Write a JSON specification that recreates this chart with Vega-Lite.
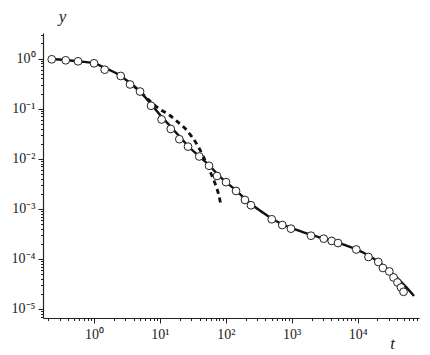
{
  "$schema": "https://vega.github.io/schema/vega-lite/v6.json",
  "width": 376,
  "height": 285,
  "autosize": "none",
  "padding": {"left": 43, "top": 33, "right": 11, "bottom": 37},
  "background": "white",
  "config": {
    "view": {"stroke": null},
    "axis": {
      "grid": false,
      "domainColor": "#222",
      "domainWidth": 1.2,
      "tickColor": "#222",
      "labelFontSize": 14,
      "labelColor": "#222",
      "titleFontStyle": "italic",
      "titleFontWeight": "normal",
      "titleFontSize": 17,
      "titleColor": "#222",
      "labelFlush": false,
      "labelOverlap": false
    }
  },
  "datasets": {
    "pts": [
      {"t": 0.228, "y": 0.964}, {"t": 0.372, "y": 0.921}, {"t": 0.572, "y": 0.879},
      {"t": 1.0, "y": 0.802}, {"t": 1.45, "y": 0.598}, {"t": 2.54, "y": 0.448},
      {"t": 3.52, "y": 0.303}, {"t": 4.99, "y": 0.219}, {"t": 7.33, "y": 0.114},
      {"t": 10.6, "y": 0.0606}, {"t": 14.6, "y": 0.0392}, {"t": 19.7, "y": 0.0245},
      {"t": 26.7, "y": 0.0174}, {"t": 39.5, "y": 0.01107}, {"t": 55.6, "y": 0.00722},
      {"t": 73.5, "y": 0.00452}, {"t": 100.7, "y": 0.0034}, {"t": 143, "y": 0.00227},
      {"t": 195, "y": 0.0015}, {"t": 241, "y": 0.001175}, {"t": 498, "y": 0.000617},
      {"t": 720, "y": 0.000474}, {"t": 975, "y": 0.000401}, {"t": 1963, "y": 0.00029},
      {"t": 3061, "y": 0.000253}, {"t": 4048, "y": 0.000228}, {"t": 5045, "y": 0.000207},
      {"t": 9550, "y": 0.000154}, {"t": 14620, "y": 0.000109}, {"t": 20600, "y": 0.0000867},
      {"t": 24200, "y": 0.0000658}, {"t": 30300, "y": 0.0000561}, {"t": 35100, "y": 0.0000426},
      {"t": 40300, "y": 0.0000338}, {"t": 45600, "y": 0.0000269}, {"t": 49800, "y": 0.000022}
    ],
    "solid": [
      {"t": 0.215, "y": 0.977}, {"t": 0.363, "y": 0.933}, {"t": 0.614, "y": 0.871},
      {"t": 1.035, "y": 0.794}, {"t": 1.47, "y": 0.646}, {"t": 2.48, "y": 0.458},
      {"t": 3.52, "y": 0.324}, {"t": 4.99, "y": 0.219}, {"t": 7.33, "y": 0.1236},
      {"t": 10.4, "y": 0.0711}, {"t": 14.7, "y": 0.043}, {"t": 20.2, "y": 0.0271},
      {"t": 28.6, "y": 0.01636}, {"t": 40.6, "y": 0.01082}, {"t": 57.5, "y": 0.00715},
      {"t": 76.1, "y": 0.00473}, {"t": 100.7, "y": 0.00343}, {"t": 143, "y": 0.00232},
      {"t": 195, "y": 0.00157}, {"t": 277, "y": 0.001086}, {"t": 393, "y": 0.000787},
      {"t": 558, "y": 0.000583}, {"t": 791, "y": 0.000464}, {"t": 1122, "y": 0.000386},
      {"t": 1897, "y": 0.000307}, {"t": 3199, "y": 0.000249}, {"t": 5408, "y": 0.000203},
      {"t": 9140, "y": 0.000158}, {"t": 12950, "y": 0.000128}, {"t": 18370, "y": 0.0000973},
      {"t": 26050, "y": 0.0000689}, {"t": 36970, "y": 0.0000456}, {"t": 52400, "y": 0.0000288},
      {"t": 71800, "y": 0.0000182}
    ],
    "dashed": [
      {"t": 2.48, "y": 0.458}, {"t": 3.52, "y": 0.324}, {"t": 4.99, "y": 0.219},
      {"t": 7.51, "y": 0.131}, {"t": 10.0, "y": 0.0969}, {"t": 13.9, "y": 0.0745},
      {"t": 18.4, "y": 0.0548}, {"t": 24.0, "y": 0.0404}, {"t": 30.4, "y": 0.0275},
      {"t": 37.5, "y": 0.01816}, {"t": 45.6, "y": 0.01096}, {"t": 56.2, "y": 0.00594},
      {"t": 68.6, "y": 0.00323}, {"t": 76.9, "y": 0.00204}, {"t": 83.7, "y": 0.00125}
    ]
  },
  "encoding": {
    "x": {
      "field": "t", "type": "quantitative",
      "scale": {"type": "log", "domain": [0.168, 85500], "nice": false},
      "axis": {
        "title": "t", "titleX": 349, "titleY": 25, "titleBaseline": "middle", "titleAlign": "center",
        "titleFont": "Liberation Serif", "labelFont": "Liberation Serif",
        "values": [0.2,0.3,0.4,0.5,0.6,0.7,0.8,0.9,1,2,3,4,5,6,7,8,9,10,20,30,40,50,60,70,80,90,100,200,300,400,500,600,700,800,900,1000,2000,3000,4000,5000,6000,7000,8000,9000,10000,20000,30000,40000,50000,60000,70000,80000],
        "tickSize": {"condition": {"test": "abs(log(datum.value)/LN10 - round(log(datum.value)/LN10)) < 0.001", "value": 5}, "value": 2.5},
        "labelExpr": "abs(log(datum.value)/LN10 - round(log(datum.value)/LN10)) < 0.001 ? '10' + (round(log(datum.value)/LN10) < 0 ? '⁻' : '') + ['⁰','¹','²','³','⁴','⁵','⁶'][abs(round(log(datum.value)/LN10))] : ''",
        "labelPadding": 4
      }
    },
    "y": {
      "field": "y", "type": "quantitative",
      "scale": {"type": "log", "domain": [0.0000066, 3.23], "nice": false},
      "axis": {
        "title": "y", "titleAngle": 0, "titleX": 19, "titleY": -17, "titleBaseline": "middle", "titleAlign": "center",
        "titleFont": "Liberation Serif", "labelFont": "Liberation Serif",
        "values": [0.000007,0.000008,0.000009,0.00001,0.00002,0.00003,0.00004,0.00005,0.00006,0.00007,0.00008,0.00009,0.0001,0.0002,0.0003,0.0004,0.0005,0.0006,0.0007,0.0008,0.0009,0.001,0.002,0.003,0.004,0.005,0.006,0.007,0.008,0.009,0.01,0.02,0.03,0.04,0.05,0.06,0.07,0.08,0.09,0.1,0.2,0.3,0.4,0.5,0.6,0.7,0.8,0.9,1,2,3],
        "tickSize": {"condition": {"test": "abs(log(datum.value)/LN10 - round(log(datum.value)/LN10)) < 0.001", "value": 5}, "value": 2.5},
        "labelExpr": "abs(log(datum.value)/LN10 - round(log(datum.value)/LN10)) < 0.001 ? '10' + (round(log(datum.value)/LN10) < 0 ? '⁻' : '') + ['⁰','¹','²','³','⁴','⁵','⁶'][abs(round(log(datum.value)/LN10))] : ''",
        "labelPadding": 3
      }
    }
  },
  "layer": [
    {"data": {"name": "dashed"}, "mark": {"type": "line", "color": "#111", "strokeWidth": 2.8, "strokeDash": [5, 4], "interpolate": "monotone"}},
    {"data": {"name": "solid"}, "mark": {"type": "line", "color": "#111", "strokeWidth": 2.4, "interpolate": "monotone"}},
    {"data": {"name": "pts"}, "mark": {"type": "point", "shape": "circle", "filled": false, "fill": "white", "fillOpacity": 1, "stroke": "#222", "strokeWidth": 1, "size": 60, "opacity": 1}}
  ]
}
